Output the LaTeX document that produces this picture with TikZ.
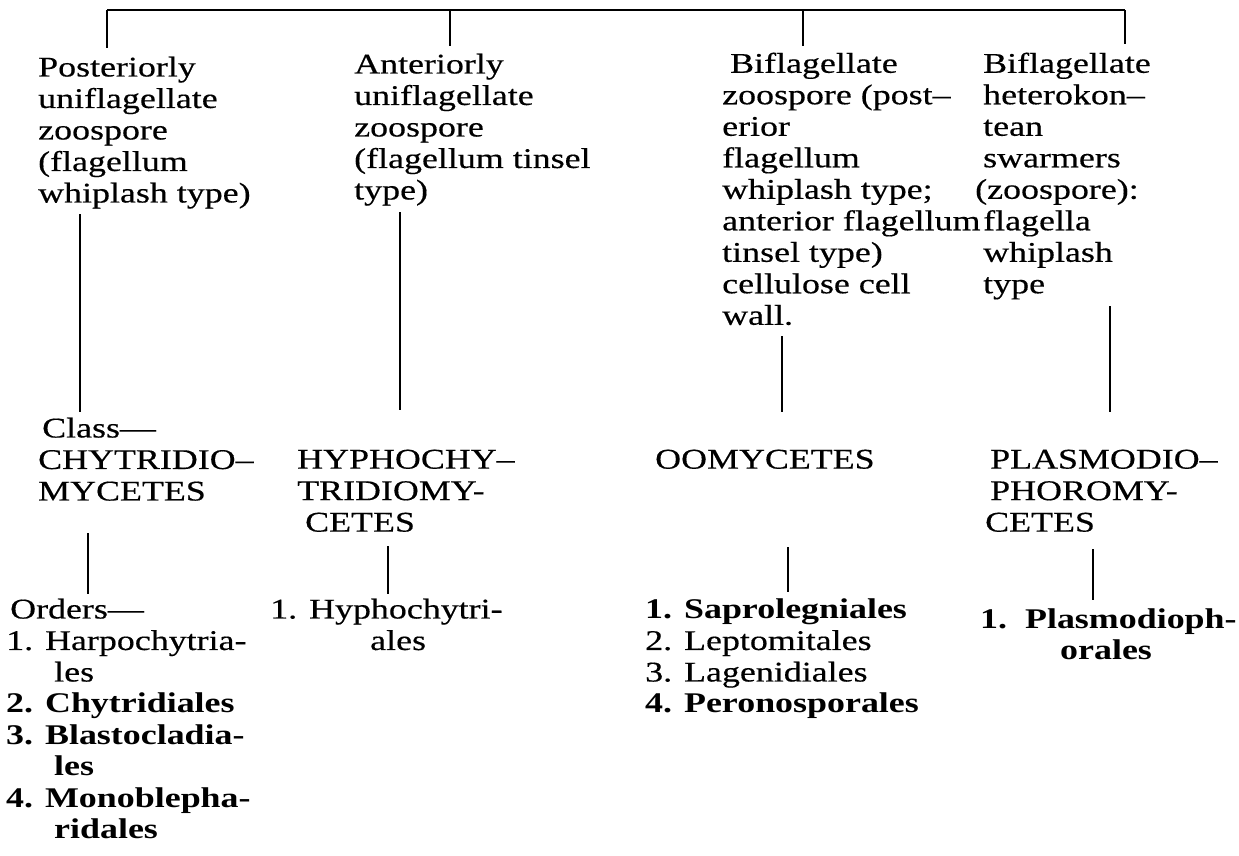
\documentclass[tikz,border=0pt]{standalone}
\usepackage{fontspec}
\setmainfont{Liberation Serif}[FakeStretch=1.26, UprightFeatures={FakeBold=0.4}]
\begin{document}
\begin{tikzpicture}[x=1pt,y=-1pt,
  txt/.style={anchor=north west, inner sep=0pt, align=left, font=\fontsize{28.5}{31.5}\selectfont},
  link/.style={line width=1.9pt, line cap=butt}]
\useasboundingbox (0,0) rectangle (1239,855);
\fill[white] (0,0) rectangle (1239,855);

% ---- top-level descriptions
\node[txt] (p1) at (38,56.5) {Posteriorly\\uniflagellate\\zoospore\\(flagellum\\whiplash type)};
\node[txt] (p2) at (354,53.5) {Anteriorly\\uniflagellate\\zoospore\\(flagellum tinsel\\type)};
\node[txt] (p3) at (722,52.5) {\hspace*{8pt}Biflagellate\\zoospore (post–\\erior\\flagellum\\whiplash type;\\anterior flagellum\\tinsel type)\\cellulose cell\\wall.};
\node[txt] (p4) at (983,52.5) {Biflagellate\\heterokon–\\tean\\swarmers\\\hspace*{-8pt}(zoospore):\\flagella\\whiplash\\type};

% ---- classes
\node[txt] (c1) at (38,417.5) {\hspace*{4pt}Class—\\CHYTRIDIO–\\MYCETES};
\node[txt] (c2) at (297,449.5) {HYPHOCHY–\\TRIDIOMY-\\\hspace*{8pt}CETES};
\node[txt] (c3) at (655,449.5) {OOMYCETES};
\node[txt] (c4) at (990,449.5) {PLASMODIO–\\PHOROMY-\\\hspace*{-5pt}CETES};

% ---- orders
\node[txt] (o1) at (6,598.5) {\hspace*{4pt}Orders—\\1. Harpochytria-\\\hspace*{48pt}les\\\textbf{2. Chytridiales}\\\textbf{3. Blastocladia-}\\\hspace*{48pt}\textbf{les}\\\textbf{4. Monoblepha-}\\\hspace*{48pt}\textbf{ridales}};
\node[txt] (o2) at (270,598.5) {1. Hyphochytri-\\\hspace*{100pt}ales};
\node[txt] (o3) at (645,598.5) {\textbf{1. Saprolegniales}\\2. Leptomitales\\3. Lagenidiales\\\textbf{4. Peronosporales}};
\node[txt] (o4) at (980,608.5) {\textbf{1.\ \ Plasmodioph-}\\\hspace*{80pt}\textbf{orales}};

% ---- connector points
\coordinate (top1) at (107,10);
\coordinate (top2) at (450,10);
\coordinate (top3) at (803,10);
\coordinate (top4) at (1125,10);
\coordinate (a1) at (107,48);
\coordinate (a2) at (450,46);
\coordinate (a3) at (803,46);
\coordinate (a4) at (1125,44);
\coordinate (b1s) at (80,214);  \coordinate (b1e) at (80,412);
\coordinate (b2s) at (400,212); \coordinate (b2e) at (400,410);
\coordinate (b3s) at (782,336); \coordinate (b3e) at (782,412);
\coordinate (b4s) at (1110,306);\coordinate (b4e) at (1110,412);
\coordinate (e1s) at (88,533);  \coordinate (e1e) at (88,594);
\coordinate (e2s) at (388,546); \coordinate (e2e) at (388,594);
\coordinate (e3s) at (788,547); \coordinate (e3e) at (788,592);
\coordinate (e4s) at (1093,549);\coordinate (e4e) at (1093,600);

% ---- connectors
\draw[link] (top1) -- (top4);
\draw[link] (top1) -- (a1);
\draw[link] (top2) -- (a2);
\draw[link] (top3) -- (a3);
\draw[link] (top4) -- (a4);
\draw[link] (b1s) -- (b1e);
\draw[link] (b2s) -- (b2e);
\draw[link] (b3s) -- (b3e);
\draw[link] (b4s) -- (b4e);
\draw[link] (e1s) -- (e1e);
\draw[link] (e2s) -- (e2e);
\draw[link] (e3s) -- (e3e);
\draw[link] (e4s) -- (e4e);
\end{tikzpicture}
\end{document}
